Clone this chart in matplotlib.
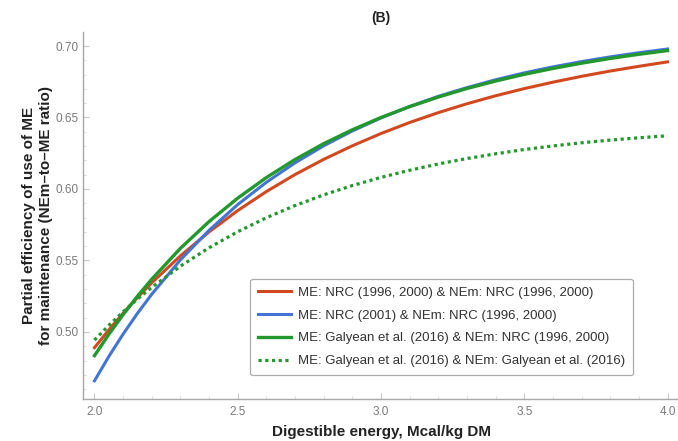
import matplotlib
matplotlib.use('Agg')
import matplotlib.pyplot as plt
import numpy as np

plt.rcParams['font.family'] = ['Liberation Sans', 'DejaVu Sans']

### values (NEm-to-ME ratio vs DE)
de = [2.0, 2.05, 2.1, 2.15, 2.2, 2.3, 2.4, 2.5, 2.6, 2.7, 2.8, 2.9, 3.0,
      3.1, 3.2, 3.3, 3.4, 3.5, 3.6, 3.7, 3.8, 3.9, 4.0]

nrc96 = [0.4890, 0.5014, 0.5131, 0.5241, 0.5344, 0.5532, 0.5700, 0.5849, 0.5982, 0.6101,
         0.6207, 0.6302, 0.6388, 0.6465, 0.6534, 0.6596, 0.6652, 0.6702, 0.6747, 0.6788,
         0.6825, 0.6858, 0.6889]
nrc01 = [0.4658, 0.4828, 0.4985, 0.5130, 0.5264, 0.5504, 0.5711, 0.5891, 0.6047, 0.6183,
         0.6302, 0.6406, 0.6497, 0.6577, 0.6648, 0.6709, 0.6764, 0.6812, 0.6854, 0.6891,
         0.6924, 0.6953, 0.6979]
galyean_nrc = [0.4834, 0.4983, 0.5121, 0.5250, 0.5369, 0.5585, 0.5772, 0.5936, 0.6080, 0.6206,
               0.6317, 0.6414, 0.6500, 0.6576, 0.6643, 0.6703, 0.6755, 0.6802, 0.6843, 0.6880,
               0.6913, 0.6942, 0.6968]
galyean_gal = [0.4943, 0.5046, 0.5141, 0.5230, 0.5312, 0.5460, 0.5589, 0.5701, 0.5799, 0.5884,
               0.5959, 0.6024, 0.6081, 0.6131, 0.6175, 0.6213, 0.6246, 0.6276, 0.6301, 0.6323,
               0.6342, 0.6358, 0.6372]

labels = ['ME: NRC (1996, 2000) & NEm: NRC (1996, 2000)',
          'ME: NRC (2001) & NEm: NRC (1996, 2000)',
          'ME: Galyean et al. (2016) & NEm: NRC (1996, 2000)',
          'ME: Galyean et al. (2016) & NEm: Galyean et al. (2016)']

red = '#d2481f'
blue = '#4274d6'
green = '#22982d'

### figure ####################################################################
fig = plt.figure(figsize=(6.78, 4.41), dpi=100)
ax = fig.add_axes([83/678, 1 - 399/441, 596/678, 367/441])

ax.plot(de, nrc96, color=red, lw=2.2, label=labels[0], solid_joinstyle='round')
ax.plot(de, nrc01, color=blue, lw=2.2, label=labels[1], solid_joinstyle='round')
ax.plot(de, galyean_nrc, color=green, lw=2.4, label=labels[2], solid_joinstyle='round')
ax.plot(de, galyean_gal, color=green, lw=2.3, linestyle=(0, (1, 1.1)), label=labels[3])

ax.set_xlim(1.96, 4.04)
ax.set_ylim(0.4531, 0.7098)

ax.set_xticks([2.0, 2.5, 3.0, 3.5, 4.0])
ax.set_xticks(np.arange(2.0, 4.01, 0.1), minor=True)
ax.set_yticks([0.50, 0.55, 0.60, 0.65, 0.70])
ax.set_yticks(np.arange(0.46, 0.705, 0.01), minor=True)
ax.set_xticklabels(['2.0', '2.5', '3.0', '3.5', '4.0'])
ax.set_yticklabels(['0.50', '0.55', '0.60', '0.65', '0.70'])

ax.tick_params(which='major', direction='in', length=4, width=0.8, color='#c8c8c8',
               labelcolor='#7a7a7a', labelsize=8.5, pad=3)
ax.tick_params(axis='x', which='major', pad=5)
ax.tick_params(which='minor', direction='in', length=2.5, width=0.6, color='#d8d8d8')

for s in ['top', 'right']:
    ax.spines[s].set_visible(False)
for s in ['left', 'bottom']:
    ax.spines[s].set_color('#a8a8a8')
    ax.spines[s].set_linewidth(1.0)

ax.set_title('(B)', fontsize=10, fontweight='bold', color='#222222', pad=7)
ax.set_xlabel('Digestible energy, Mcal/kg DM', fontsize=11, fontweight='bold',
              color='#222222', labelpad=5)
ax.set_ylabel('Partial efficiency of use of ME\nfor maintenance (NEm\u2013to\u2013ME ratio)',
              fontsize=11, fontweight='bold', color='#222222', labelpad=2, linespacing=1.3)

leg = ax.legend(loc='lower right', bbox_to_anchor=(0.923, 0.065), borderaxespad=0,
                fontsize=9.5, labelspacing=0.8, handlelength=2.5, handletextpad=0.55,
                borderpad=0.6, frameon=True, fancybox=True)
leg.get_frame().set_edgecolor('#999999')
leg.get_frame().set_linewidth(0.9)
for t in leg.get_texts():
    t.set_color('#333333')

fig.savefig('out.png', dpi=100)
